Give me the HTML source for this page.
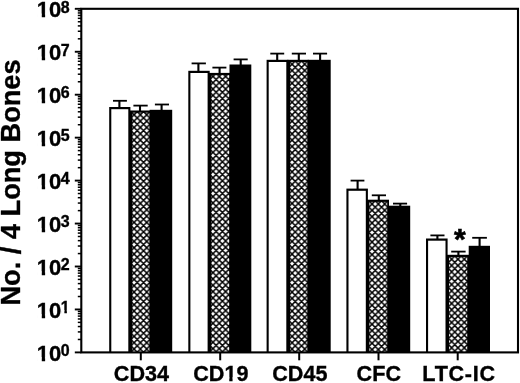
<!DOCTYPE html>
<html><head><meta charset="utf-8"><title>Figure</title>
<style>
html,body{margin:0;padding:0;background:#fff;}
body{width:520px;height:383px;overflow:hidden;}
svg{display:block;}
text{font-family:"Liberation Sans",Arial,Helvetica,sans-serif;font-weight:bold;fill:#000;stroke:#000;stroke-width:0.35px;}
.yl{font-size:22px;}
.ye{font-size:16px;}
.xl{font-size:21.6px;}
.as{font-size:30px;stroke-width:0.6px;}
.yt{font-size:27.2px;}
</style></head><body>
<svg width="520" height="383" viewBox="0 0 520 383">
<defs>
<pattern id="hx0" width="6.33" height="6.33" patternUnits="userSpaceOnUse" x="1.105" y="0.860"><rect width="6.33" height="6.33" fill="#fff"/><path d="M-1,-1 L7.33,7.33 M7.33,-1 L-1,7.33 M-1,5.33 L1,7.33 M5.33,-1 L7.33,1 M-1,1 L1,-1 M5.33,7.33 L7.33,5.33" stroke="#000" stroke-width="1.45" fill="none"/></pattern>
<pattern id="hx1" width="6.33" height="6.33" patternUnits="userSpaceOnUse" x="4.045" y="0.440"><rect width="6.33" height="6.33" fill="#fff"/><path d="M-1,-1 L7.33,7.33 M7.33,-1 L-1,7.33 M-1,5.33 L1,7.33 M5.33,-1 L7.33,1 M-1,1 L1,-1 M5.33,7.33 L7.33,5.33" stroke="#000" stroke-width="1.45" fill="none"/></pattern>
<pattern id="hx2" width="6.33" height="6.33" patternUnits="userSpaceOnUse" x="0.855" y="0.900"><rect width="6.33" height="6.33" fill="#fff"/><path d="M-1,-1 L7.33,7.33 M7.33,-1 L-1,7.33 M-1,5.33 L1,7.33 M5.33,-1 L7.33,1 M-1,1 L1,-1 M5.33,7.33 L7.33,5.33" stroke="#000" stroke-width="1.45" fill="none"/></pattern>
<pattern id="hx3" width="6.33" height="6.33" patternUnits="userSpaceOnUse" x="4.895" y="1.440"><rect width="6.33" height="6.33" fill="#fff"/><path d="M-1,-1 L7.33,7.33 M7.33,-1 L-1,7.33 M-1,5.33 L1,7.33 M5.33,-1 L7.33,1 M-1,1 L1,-1 M5.33,7.33 L7.33,5.33" stroke="#000" stroke-width="1.45" fill="none"/></pattern>
<pattern id="hx4" width="6.33" height="6.33" patternUnits="userSpaceOnUse" x="2.205" y="6.000"><rect width="6.33" height="6.33" fill="#fff"/><path d="M-1,-1 L7.33,7.33 M7.33,-1 L-1,7.33 M-1,5.33 L1,7.33 M5.33,-1 L7.33,1 M-1,1 L1,-1 M5.33,7.33 L7.33,5.33" stroke="#000" stroke-width="1.45" fill="none"/></pattern>
</defs>
<rect width="520" height="383" fill="#fff"/>
<path d="M119.4,108.0 V100.8" stroke="#000" stroke-width="2.1" fill="none"/>
<path d="M113.0,100.8 H126.9" stroke="#000" stroke-width="1.8" fill="none"/>
<path d="M140.0,111.5 V105.6" stroke="#000" stroke-width="2.1" fill="none"/>
<path d="M133.4,105.6 H147.7" stroke="#000" stroke-width="1.8" fill="none"/>
<path d="M161.6,110.8 V104.5" stroke="#000" stroke-width="2.1" fill="none"/>
<path d="M154.9,104.5 H169.0" stroke="#000" stroke-width="1.8" fill="none"/>
<rect x="109.2" y="107.0" width="21.2" height="245.4" fill="#000"/>
<rect x="111.3" y="109.2" width="17.0" height="243.2" fill="#fff"/>
<rect x="129.3" y="110.5" width="21.3" height="241.9" fill="#000"/>
<rect x="132.3" y="112.7" width="17.3" height="239.7" fill="url(#hx0)"/>
<rect x="149.6" y="109.8" width="22.6" height="242.6" fill="#000"/>
<path d="M198.4,71.8 V63.4" stroke="#000" stroke-width="2.1" fill="none"/>
<path d="M191.6,63.4 H205.9" stroke="#000" stroke-width="1.8" fill="none"/>
<path d="M219.6,73.9 V67.6" stroke="#000" stroke-width="2.1" fill="none"/>
<path d="M212.4,67.6 H226.4" stroke="#000" stroke-width="1.8" fill="none"/>
<path d="M240.7,65.5 V59.4" stroke="#000" stroke-width="2.1" fill="none"/>
<path d="M233.6,59.4 H247.7" stroke="#000" stroke-width="1.8" fill="none"/>
<rect x="188.3" y="70.8" width="21.4" height="281.6" fill="#000"/>
<rect x="190.4" y="73.0" width="17.2" height="279.4" fill="#fff"/>
<rect x="208.6" y="72.9" width="21.9" height="279.5" fill="#000"/>
<rect x="211.3" y="75.1" width="18.1" height="277.3" fill="url(#hx1)"/>
<rect x="229.5" y="64.5" width="21.8" height="287.9" fill="#000"/>
<path d="M277.2,60.8 V53.6" stroke="#000" stroke-width="2.1" fill="none"/>
<path d="M270.3,53.6 H284.2" stroke="#000" stroke-width="1.8" fill="none"/>
<path d="M298.8,60.8 V53.6" stroke="#000" stroke-width="2.1" fill="none"/>
<path d="M291.8,53.6 H306.0" stroke="#000" stroke-width="1.8" fill="none"/>
<path d="M320.1,60.8 V53.6" stroke="#000" stroke-width="2.1" fill="none"/>
<path d="M313.0,53.6 H327.1" stroke="#000" stroke-width="1.8" fill="none"/>
<rect x="266.6" y="59.8" width="21.8" height="292.6" fill="#000"/>
<rect x="268.7" y="62.0" width="17.6" height="290.4" fill="#fff"/>
<rect x="287.3" y="59.8" width="21.4" height="292.6" fill="#000"/>
<rect x="290.1" y="62.0" width="17.3" height="290.4" fill="url(#hx2)"/>
<rect x="307.7" y="59.8" width="23.0" height="292.6" fill="#000"/>
<path d="M357.6,189.6 V180.6" stroke="#000" stroke-width="2.1" fill="none"/>
<path d="M350.6,180.6 H364.4" stroke="#000" stroke-width="1.8" fill="none"/>
<path d="M378.8,200.7 V195.3" stroke="#000" stroke-width="2.1" fill="none"/>
<path d="M371.8,195.3 H386.0" stroke="#000" stroke-width="1.8" fill="none"/>
<path d="M400.3,206.7 V203.6" stroke="#000" stroke-width="2.1" fill="none"/>
<path d="M393.0,203.6 H407.1" stroke="#000" stroke-width="1.8" fill="none"/>
<rect x="346.4" y="188.6" width="21.5" height="163.8" fill="#000"/>
<rect x="348.5" y="190.8" width="17.3" height="161.6" fill="#fff"/>
<rect x="366.8" y="199.7" width="22.2" height="152.7" fill="#000"/>
<rect x="369.4" y="201.9" width="17.8" height="150.5" fill="url(#hx3)"/>
<rect x="388.0" y="205.7" width="22.2" height="146.7" fill="#000"/>
<path d="M437.4,239.5 V235.4" stroke="#000" stroke-width="2.1" fill="none"/>
<path d="M430.4,235.4 H444.5" stroke="#000" stroke-width="1.8" fill="none"/>
<path d="M458.4,255.8 V251.6" stroke="#000" stroke-width="2.1" fill="none"/>
<path d="M451.2,251.6 H465.6" stroke="#000" stroke-width="1.8" fill="none"/>
<path d="M479.6,246.8 V237.8" stroke="#000" stroke-width="2.1" fill="none"/>
<path d="M472.2,237.8 H486.9" stroke="#000" stroke-width="1.8" fill="none"/>
<rect x="426.0" y="238.5" width="21.6" height="113.9" fill="#000"/>
<rect x="428.1" y="240.7" width="17.4" height="111.7" fill="#fff"/>
<rect x="446.5" y="254.8" width="23.2" height="97.6" fill="#000"/>
<rect x="449.0" y="257.0" width="18.2" height="95.4" fill="url(#hx4)"/>
<rect x="468.7" y="245.8" width="21.3" height="106.6" fill="#000"/>
<rect x="81.3" y="8.8" width="436.7" height="343.6" fill="none" stroke="#000" stroke-width="2.1"/>
<path d="M74.8,352.40 H81.3" stroke="#000" stroke-width="1.9"/>
<path d="M77.8,339.47 H81.3" stroke="#000" stroke-width="1.5"/>
<path d="M77.8,331.91 H81.3" stroke="#000" stroke-width="1.5"/>
<path d="M77.8,326.54 H81.3" stroke="#000" stroke-width="1.5"/>
<path d="M77.8,322.38 H81.3" stroke="#000" stroke-width="1.5"/>
<path d="M77.8,318.98 H81.3" stroke="#000" stroke-width="1.5"/>
<path d="M77.8,316.10 H81.3" stroke="#000" stroke-width="1.5"/>
<path d="M77.8,313.61 H81.3" stroke="#000" stroke-width="1.5"/>
<path d="M77.8,311.42 H81.3" stroke="#000" stroke-width="1.5"/>
<path d="M74.8,309.45 H81.3" stroke="#000" stroke-width="1.9"/>
<path d="M77.8,296.52 H81.3" stroke="#000" stroke-width="1.5"/>
<path d="M77.8,288.96 H81.3" stroke="#000" stroke-width="1.5"/>
<path d="M77.8,283.59 H81.3" stroke="#000" stroke-width="1.5"/>
<path d="M77.8,279.43 H81.3" stroke="#000" stroke-width="1.5"/>
<path d="M77.8,276.03 H81.3" stroke="#000" stroke-width="1.5"/>
<path d="M77.8,273.15 H81.3" stroke="#000" stroke-width="1.5"/>
<path d="M77.8,270.66 H81.3" stroke="#000" stroke-width="1.5"/>
<path d="M77.8,268.47 H81.3" stroke="#000" stroke-width="1.5"/>
<path d="M74.8,266.50 H81.3" stroke="#000" stroke-width="1.9"/>
<path d="M77.8,253.57 H81.3" stroke="#000" stroke-width="1.5"/>
<path d="M77.8,246.01 H81.3" stroke="#000" stroke-width="1.5"/>
<path d="M77.8,240.64 H81.3" stroke="#000" stroke-width="1.5"/>
<path d="M77.8,236.48 H81.3" stroke="#000" stroke-width="1.5"/>
<path d="M77.8,233.08 H81.3" stroke="#000" stroke-width="1.5"/>
<path d="M77.8,230.20 H81.3" stroke="#000" stroke-width="1.5"/>
<path d="M77.8,227.71 H81.3" stroke="#000" stroke-width="1.5"/>
<path d="M77.8,225.52 H81.3" stroke="#000" stroke-width="1.5"/>
<path d="M74.8,223.55 H81.3" stroke="#000" stroke-width="1.9"/>
<path d="M77.8,210.62 H81.3" stroke="#000" stroke-width="1.5"/>
<path d="M77.8,203.06 H81.3" stroke="#000" stroke-width="1.5"/>
<path d="M77.8,197.69 H81.3" stroke="#000" stroke-width="1.5"/>
<path d="M77.8,193.53 H81.3" stroke="#000" stroke-width="1.5"/>
<path d="M77.8,190.13 H81.3" stroke="#000" stroke-width="1.5"/>
<path d="M77.8,187.25 H81.3" stroke="#000" stroke-width="1.5"/>
<path d="M77.8,184.76 H81.3" stroke="#000" stroke-width="1.5"/>
<path d="M77.8,182.57 H81.3" stroke="#000" stroke-width="1.5"/>
<path d="M74.8,180.60 H81.3" stroke="#000" stroke-width="1.9"/>
<path d="M77.8,167.67 H81.3" stroke="#000" stroke-width="1.5"/>
<path d="M77.8,160.11 H81.3" stroke="#000" stroke-width="1.5"/>
<path d="M77.8,154.74 H81.3" stroke="#000" stroke-width="1.5"/>
<path d="M77.8,150.58 H81.3" stroke="#000" stroke-width="1.5"/>
<path d="M77.8,147.18 H81.3" stroke="#000" stroke-width="1.5"/>
<path d="M77.8,144.30 H81.3" stroke="#000" stroke-width="1.5"/>
<path d="M77.8,141.81 H81.3" stroke="#000" stroke-width="1.5"/>
<path d="M77.8,139.62 H81.3" stroke="#000" stroke-width="1.5"/>
<path d="M74.8,137.65 H81.3" stroke="#000" stroke-width="1.9"/>
<path d="M77.8,124.72 H81.3" stroke="#000" stroke-width="1.5"/>
<path d="M77.8,117.16 H81.3" stroke="#000" stroke-width="1.5"/>
<path d="M77.8,111.79 H81.3" stroke="#000" stroke-width="1.5"/>
<path d="M77.8,107.63 H81.3" stroke="#000" stroke-width="1.5"/>
<path d="M77.8,104.23 H81.3" stroke="#000" stroke-width="1.5"/>
<path d="M77.8,101.35 H81.3" stroke="#000" stroke-width="1.5"/>
<path d="M77.8,98.86 H81.3" stroke="#000" stroke-width="1.5"/>
<path d="M77.8,96.67 H81.3" stroke="#000" stroke-width="1.5"/>
<path d="M74.8,94.70 H81.3" stroke="#000" stroke-width="1.9"/>
<path d="M77.8,81.77 H81.3" stroke="#000" stroke-width="1.5"/>
<path d="M77.8,74.21 H81.3" stroke="#000" stroke-width="1.5"/>
<path d="M77.8,68.84 H81.3" stroke="#000" stroke-width="1.5"/>
<path d="M77.8,64.68 H81.3" stroke="#000" stroke-width="1.5"/>
<path d="M77.8,61.28 H81.3" stroke="#000" stroke-width="1.5"/>
<path d="M77.8,58.40 H81.3" stroke="#000" stroke-width="1.5"/>
<path d="M77.8,55.91 H81.3" stroke="#000" stroke-width="1.5"/>
<path d="M77.8,53.72 H81.3" stroke="#000" stroke-width="1.5"/>
<path d="M74.8,51.75 H81.3" stroke="#000" stroke-width="1.9"/>
<path d="M77.8,38.82 H81.3" stroke="#000" stroke-width="1.5"/>
<path d="M77.8,31.26 H81.3" stroke="#000" stroke-width="1.5"/>
<path d="M77.8,25.89 H81.3" stroke="#000" stroke-width="1.5"/>
<path d="M77.8,21.73 H81.3" stroke="#000" stroke-width="1.5"/>
<path d="M77.8,18.33 H81.3" stroke="#000" stroke-width="1.5"/>
<path d="M77.8,15.45 H81.3" stroke="#000" stroke-width="1.5"/>
<path d="M77.8,12.96 H81.3" stroke="#000" stroke-width="1.5"/>
<path d="M77.8,10.77 H81.3" stroke="#000" stroke-width="1.5"/>
<path d="M74.8,8.80 H81.3" stroke="#000" stroke-width="1.9"/>
<text transform="translate(36.8,360.9) scale(1,1.04)" class="yl">10</text>
<text transform="translate(60.8,356.1) scale(1,1.04)" class="ye">0</text>
<text transform="translate(36.8,317.9) scale(1,1.04)" class="yl">10</text>
<text transform="translate(60.8,313.1) scale(1,1.04)" class="ye">1</text>
<text transform="translate(36.8,275.0) scale(1,1.04)" class="yl">10</text>
<text transform="translate(60.8,270.2) scale(1,1.04)" class="ye">2</text>
<text transform="translate(36.8,232.0) scale(1,1.04)" class="yl">10</text>
<text transform="translate(60.8,227.2) scale(1,1.04)" class="ye">3</text>
<text transform="translate(36.8,189.1) scale(1,1.04)" class="yl">10</text>
<text transform="translate(60.8,184.3) scale(1,1.04)" class="ye">4</text>
<text transform="translate(36.8,146.2) scale(1,1.04)" class="yl">10</text>
<text transform="translate(60.8,141.3) scale(1,1.04)" class="ye">5</text>
<text transform="translate(36.8,103.2) scale(1,1.04)" class="yl">10</text>
<text transform="translate(60.8,98.4) scale(1,1.04)" class="ye">6</text>
<text transform="translate(36.8,60.2) scale(1,1.04)" class="yl">10</text>
<text transform="translate(60.8,55.5) scale(1,1.04)" class="ye">7</text>
<text transform="translate(36.8,17.3) scale(1,1.04)" class="yl">10</text>
<text transform="translate(60.8,12.5) scale(1,1.04)" class="ye">8</text>
<path d="M140.8,352.4 V360.3" stroke="#000" stroke-width="2"/>
<text transform="translate(141.4,380.9) scale(1,1.04)" class="xl" text-anchor="middle">CD34</text>
<path d="M220.2,352.4 V360.3" stroke="#000" stroke-width="2"/>
<text transform="translate(220.8,380.9) scale(1,1.04)" class="xl" text-anchor="middle">CD19</text>
<path d="M299.2,352.4 V360.3" stroke="#000" stroke-width="2"/>
<text transform="translate(299.8,380.9) scale(1,1.04)" class="xl" text-anchor="middle">CD45</text>
<path d="M378.5,352.4 V360.3" stroke="#000" stroke-width="2"/>
<text transform="translate(378.8,380.9) scale(1,1.04)" class="xl" text-anchor="middle">CFC</text>
<path d="M457.7,352.4 V360.3" stroke="#000" stroke-width="2"/>
<text transform="translate(459.0,380.9) scale(1,1.04)" class="xl" text-anchor="middle" style="letter-spacing:0.7px">LTC-IC</text>
<text x="459.8" y="249.2" class="as" text-anchor="middle">*</text>
<text transform="translate(20.4,305.6) rotate(-90)" class="yt">No. / 4 Long Bones</text>
<rect x="37.24" y="357.24" width="4.53" height="5.26" fill="#fff"/>
<rect x="45.12" y="357.24" width="4.18" height="5.26" fill="#fff"/>
<rect x="37.24" y="314.29" width="4.53" height="5.26" fill="#fff"/>
<rect x="45.12" y="314.29" width="4.18" height="5.26" fill="#fff"/>
<rect x="61.12" y="310.05" width="3.24" height="4.70" fill="#fff"/>
<rect x="66.90" y="310.05" width="3.04" height="4.70" fill="#fff"/>
<rect x="37.24" y="271.34" width="4.53" height="5.26" fill="#fff"/>
<rect x="45.12" y="271.34" width="4.18" height="5.26" fill="#fff"/>
<rect x="37.24" y="228.39" width="4.53" height="5.26" fill="#fff"/>
<rect x="45.12" y="228.39" width="4.18" height="5.26" fill="#fff"/>
<rect x="37.24" y="185.44" width="4.53" height="5.26" fill="#fff"/>
<rect x="45.12" y="185.44" width="4.18" height="5.26" fill="#fff"/>
<rect x="37.24" y="142.49" width="4.53" height="5.26" fill="#fff"/>
<rect x="45.12" y="142.49" width="4.18" height="5.26" fill="#fff"/>
<rect x="37.24" y="99.54" width="4.53" height="5.26" fill="#fff"/>
<rect x="45.12" y="99.54" width="4.18" height="5.26" fill="#fff"/>
<rect x="37.24" y="56.59" width="4.53" height="5.26" fill="#fff"/>
<rect x="45.12" y="56.59" width="4.18" height="5.26" fill="#fff"/>
<rect x="37.24" y="13.64" width="4.53" height="5.26" fill="#fff"/>
<rect x="45.12" y="13.64" width="4.18" height="5.26" fill="#fff"/>
<rect x="224.82" y="377.28" width="4.44" height="5.22" fill="#fff"/>
<rect x="232.56" y="377.28" width="4.10" height="5.22" fill="#fff"/>
</svg>
</body></html>
